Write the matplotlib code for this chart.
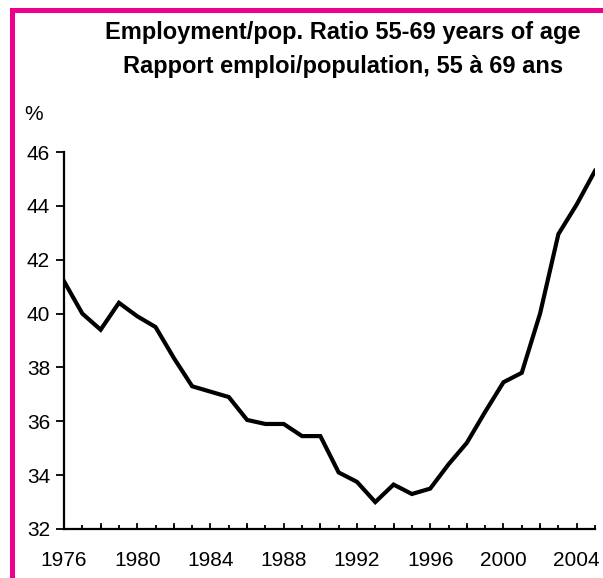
import matplotlib.pyplot as plt
from matplotlib.patches import Rectangle

plt.rcParams["font.family"] = ["Liberation Sans", "DejaVu Sans"]

years = list(range(1976, 2006))
ratio = [41.2, 40.0, 39.4, 40.4, 39.9, 39.5, 38.35, 37.3, 37.1, 36.9,
         36.05, 35.9, 35.9, 35.45, 35.45, 34.1, 33.75, 33.0, 33.65, 33.3,
         33.5, 34.4, 35.2, 36.35, 37.45, 37.8, 40.0, 42.95, 44.05, 45.3]

y_ticks = [32, 34, 36, 38, 40, 42, 44, 46]
x_labels = [1976, 1980, 1984, 1988, 1992, 1996, 2000, 2004]

title1 = "Employment/pop. Ratio 55-69 years of age"
title2 = "Rapport emploi/population, 55 à 69 ans"

fig = plt.figure(figsize=(6.03, 5.78), dpi=100)
fig.patch.set_facecolor("white")

# magenta frame (only left and top edges fall inside the picture)
frame_col = "#EC008C"
fig.add_artist(Rectangle((11.5 / 603, -0.1), 1.2, 1.1 - 10.5 / 578, transform=fig.transFigure,
                         fill=False, edgecolor=frame_col, linewidth=3.6))

ax = fig.add_axes([64 / 603, 1 - 529 / 578, (595 - 64) / 603, (529 - 152) / 578])
ax.plot(years, ratio, color="black", linewidth=3, solid_joinstyle="miter")

ax.set_xlim(1976, 2005)
ax.set_ylim(32, 46)
ax.set_yticks(y_ticks)
ax.set_xticks(x_labels)
ax.set_xticks(years, minor=True)

for s in ["top", "right"]:
    ax.spines[s].set_visible(False)
for s in ["left", "bottom"]:
    ax.spines[s].set_linewidth(1.6)

ax.tick_params(axis="y", direction="out", length=6, width=1.3, labelsize=15, pad=4)
ax.tick_params(axis="x", which="major", direction="in", length=0, labelsize=15, pad=16)
ax.tick_params(axis="x", which="minor", direction="in", length=3, width=1.3)

# taller ticks on even years
for yr in years:
    if yr % 2 == 0 and yr != 1976:
        ax.plot([yr, yr], [32, 32.2], color="black", linewidth=1.3, clip_on=False)

fig.text(343 / 603, 1 - 33 / 578, title1, ha="center", va="center",
         fontsize=17, fontweight="bold")
fig.text(343 / 603, 1 - 67 / 578, title2, ha="center", va="center",
         fontsize=17, fontweight="bold")
fig.text(34 / 603, 1 - 114 / 578, "%", ha="center", va="center", fontsize=15)

fig.savefig("out.png", dpi=100)
